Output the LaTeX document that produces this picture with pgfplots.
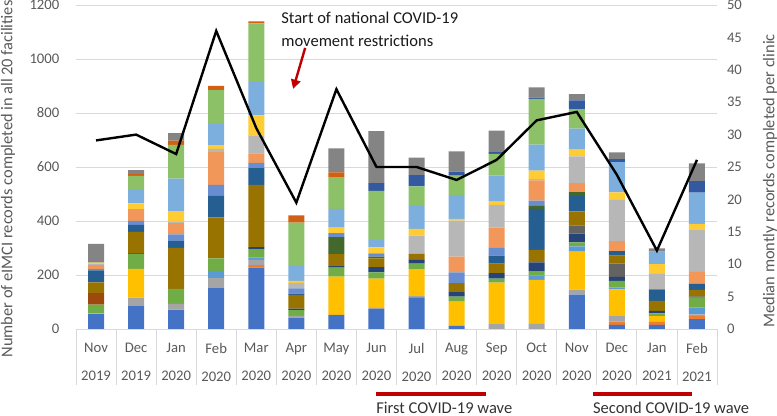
\documentclass[border=0pt]{standalone}
\usepackage{fontspec}
\setmainfont{Carlito}
\usepackage{pgfplots}
\pgfplotsset{compat=1.18}
\usepackage{pgfplotstable}
\usetikzlibrary{arrows.meta}

% Excel default series colours, in stacking order
\definecolor{c1}{HTML}{4472C4}
\definecolor{c2}{HTML}{ED7D31}
\definecolor{c3}{HTML}{A5A5A5}
\definecolor{c4}{HTML}{FFC000}
\definecolor{c5}{HTML}{5B9BD5}
\definecolor{c6}{HTML}{70AD47}
\definecolor{c7}{HTML}{264478}
\definecolor{c8}{HTML}{9E480E}
\definecolor{c9}{HTML}{636363}
\definecolor{c10}{HTML}{997300}
\definecolor{c11}{HTML}{255E91}
\definecolor{c12}{HTML}{43682B}
\definecolor{c13}{HTML}{698ED0}
\definecolor{c14}{HTML}{F1975A}
\definecolor{c15}{HTML}{B7B7B7}
\definecolor{c16}{HTML}{FFCD33}
\definecolor{c17}{HTML}{7CAFDD}
\definecolor{c18}{HTML}{8CC168}
\definecolor{c19}{HTML}{335AA1}
\definecolor{c20}{HTML}{D26012}
\definecolor{c21}{HTML}{848484}
\definecolor{wavered}{HTML}{C00000}
\definecolor{gridgray}{HTML}{D9D9D9}
\definecolor{txtgray}{HTML}{595959}

% records per facility (s1..s21), months Nov 2019 .. Feb 2021
\pgfplotstableread{
x  s1  s2 s3 s4  s5 s6 s7 s8 s9 s10 s11 s12 s13 s14 s15 s16 s17 s18 s19 s20 s21
0  56  0  0  3   0  31 0  43 0  40  44  0   5   15  5   4   0   0   0   0   69
1  85  0  31 107 0  54 0  4  0  79  26  0   14  44  0   21  53  49  0   7   14
2  70  3  20 0   0  56 0  0  0  151 25  0   25  42  5   40  120 125 0   16  27
3  153 0  35 0   27 47 0  0  0  151 80  0   41  121 12  14  79  125 0   15  0
4  227 10 19 0   9  31 7  0  0  231 62  0   19  35  67  74  127 214 0   7   0
5  42  0  7  0   0  21 5  0  0  51  5   0   19  0   21  7   56  160 0   27  0
6  52  0  0  142 0  33 9  0  0  41  0   63  15  0   0   20  70  116 0   19  89
7  74  0  4  109 0  23 19 0  0  33  0   6   12  0   0   22  27  183 28  0   193
8  117 0  5  100 0  20 14 0  0  22  0   0   0   0   68  25  88  69  42  0   65
9  12  0  0  89  0  19 19 0  0  31  0   0   40  58  133 7   88  72  15  0   75
10 0   0  21 151 0  15 20 0  0  35  30  0   30  73  85  12  96  81  6   0   80
11 0   0  19 163 16 16 33 0  0  46  152 11  19  75  5   32  96  169 5   0   38
12 127 0  19 141 19 15 32 0  31 52  56  15  0   33  99  25  78  72  33  0   23
13 15  12 21 99  6  25 15 0  49 30  16  0   0   37  153 28  112 0   11  0   25
14 15  11 0  22  0  10 9  0  0  37  43  0   0   0   57  36  47  0   0   0   12
15 37  12 5  0   26 36 4  0  0  25  23  0   0   44  157 20  116 0   43  0   65
}\bars

% median monthly records per clinic
\pgfplotstableread{
x  med
0  29.1
1  30.0
2  27.0
3  46.0
4  31.0
5  19.5
6  37.0
7  25.0
8  25.0
9  23.0
10 26.1
11 32.2
12 33.5
13 23.8
14 12.1
15 26.1
}\median

\begin{document}
\begin{tikzpicture}
\useasboundingbox (-57pt,-65.25pt) rectangle (525.75pt,246.75pt);
\begin{axis}[
  at={(0,0)}, anchor=south west,
  scale only axis, width=480.75pt, height=243pt,
  ybar stacked, bar width=0.4,
  xmin=-0.5, xmax=15.5, ymin=0, ymax=1200,
  xtick={0,...,15},
  xticklabels={{Nov\\2019},{Dec\\2019},{Jan\\2020},{Feb\\2020},{Mar\\2020},{Apr\\2020},{May\\2020},{Jun\\2020},{Jul\\2020},{Aug\\2020},{Sep\\2020},{Oct\\2020},{Nov\\2020},{Dec\\2020},{Jan\\2021},{Feb\\2021}},
  minor xtick={-0.5,0.5,...,15.5},
  xtick pos=bottom, ytick pos=left, tick align=outside,
  major tick length=0pt, minor tick length=42pt,
  minor tick style={gridgray, line width=0.6pt},
  ytick={0,200,...,1200},
  ymajorgrids, grid style={gridgray, line width=0.6pt},
  axis line style={draw=none},
  /pgf/number format/assume math mode=true,
  /pgf/number format/1000 sep={},
  tick label style={font=\fontsize{11}{21}\selectfont, txtgray},
  xticklabel style={align=center, yshift=-7pt},
  yticklabel style={xshift=-9pt},
  ylabel={Number of eIMCI records completed in all 20 facilities},
  ylabel style={at={(axis description cs:-0.106,0.463)}, anchor=center, rotate=0, font=\fontsize{12.3}{14}\selectfont, txtgray},
  clip=false,
]
\pgfplotsinvokeforeach{1,...,21}{
  \addplot[fill=c#1, draw=none] table[x=x, y=s#1] {\bars};
}
\draw[gridgray, line width=0.6pt] (rel axis cs:0,0) -- (rel axis cs:1,0);
\node[anchor=base west, inner sep=0pt, font=\fontsize{12.4}{15}\selectfont, black!90] at (axis cs:4.62,1130) {Start of national COVID-19};
\node[anchor=base west, inner sep=0pt, font=\fontsize{12.4}{15}\selectfont, black!90] at (axis cs:4.62,1048) {movement restrictions};
\draw[wavered, line width=1.8pt, -{Triangle[length=7pt,width=7pt]}] (axis cs:5.22,1041) -- (axis cs:4.92,889);
\draw[wavered, line width=3pt] (axis cs:6.99,-241) -- (axis cs:9.73,-241);
\draw[wavered, line width=3pt] (axis cs:12.40,-241) -- (axis cs:14.87,-241);
\node[anchor=base west, inner sep=0pt, font=\fontsize{12.4}{15}\selectfont, black!80] at (axis cs:6.99,-313) {First COVID-19 wave};
\node[anchor=base west, inner sep=0pt, font=\fontsize{12.4}{15}\selectfont, black!80] at (axis cs:12.40,-313) {Second COVID-19 wave};
\end{axis}
\begin{axis}[
  at={(0,0)}, anchor=south west,
  scale only axis, width=480.75pt, height=243pt,
  xmin=-0.5, xmax=15.5, ymin=0, ymax=50,
  axis x line=none,
  axis y line*=right, y axis line style={draw=none},
  ytick={0,5,...,50}, major tick length=0pt,
  /pgf/number format/assume math mode=true,
  tick label style={font=\fontsize{11}{13}\selectfont, txtgray},
  yticklabel style={xshift=4pt},
  ylabel={Median montly records completed per clinic},
  ylabel style={at={(axis description cs:1.0827,0.457)}, anchor=center, rotate=0, font=\fontsize{12.3}{14}\selectfont, txtgray},
  clip=false,
]
\addplot[black, line width=1.8pt, mark=none, line join=miter] table[x=x, y=med] {\median};
\end{axis}
\end{tikzpicture}
\end{document}
